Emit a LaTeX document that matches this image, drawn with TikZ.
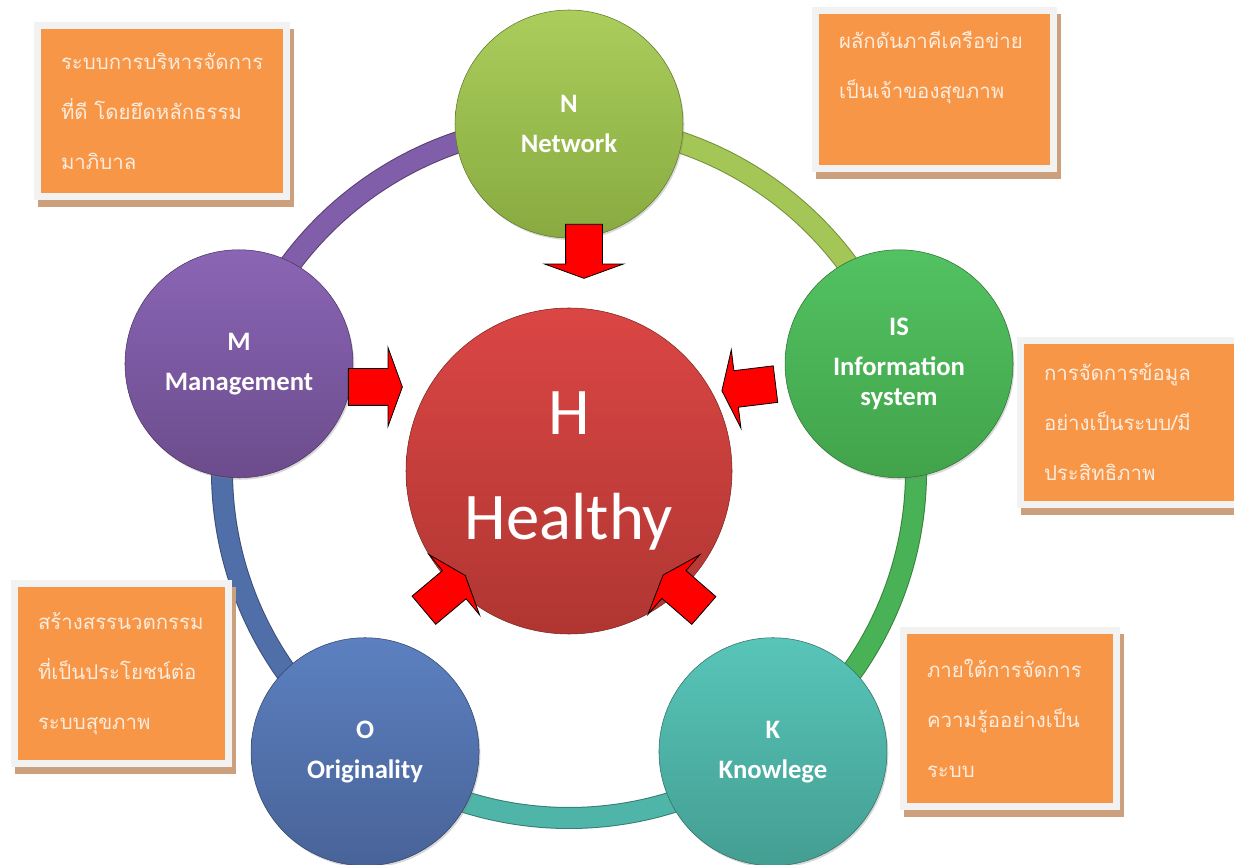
\documentclass[tikz,border=0pt]{standalone}
\usepackage{fontspec}
\setmainfont{Carlito}
\newfontfamily\thaifont[Script=Thai]{Loma}
\usetikzlibrary{shapes.arrows,shadows,backgrounds,calc}

\definecolor{boxorange}{RGB}{247,150,70}
\definecolor{boxgray}{RGB}{242,242,242}
\definecolor{boxshadow}{RGB}{204,160,124}
\definecolor{boxtext}{RGB}{253,236,222}
\definecolor{nTop}{RGB}{170,205,92}
\definecolor{nBot}{RGB}{136,170,64}
\definecolor{isTop}{RGB}{82,194,98}
\definecolor{isBot}{RGB}{66,163,74}
\definecolor{kTop}{RGB}{88,197,185}
\definecolor{kBot}{RGB}{68,158,146}
\definecolor{oTop}{RGB}{92,128,192}
\definecolor{oBot}{RGB}{72,99,152}
\definecolor{mTop}{RGB}{138,101,181}
\definecolor{mBot}{RGB}{108,76,140}
\definecolor{hTop}{RGB}{218,70,68}
\definecolor{hBot}{RGB}{176,54,50}

\tikzset{
	part/.style = {circle, minimum size = 171pt, inner sep = 0pt, text = white, align = center,
		font = \fontsize{20}{22}\selectfont\bfseries,
		drop shadow = {opacity = 0.3, shadow xshift = 1pt, shadow yshift = -1.5pt}},
	ring/.style = {line width = 0.75pt, double distance = 15pt},
	push/.style = {single arrow, draw = black, fill = red, line width = 0.6pt, inner xsep = 0pt, inner ysep = 13.5pt,
		minimum height = 40.5pt, single arrow head extend = 15.75pt, single arrow tip angle = 140},
	infobox/.style = {rectangle, fill = boxgray, inner xsep = 20.25pt, inner ysep = 0pt,
		align = left, text = boxtext, font = \thaifont\fontsize{15.3}{37.5}\selectfont,
		path picture = {\fill[boxorange] ([shift = {(5.25pt,5.25pt)}]path picture bounding box.south west)
			rectangle ([shift = {(-5.25pt,-5.25pt)}]path picture bounding box.north east);},
		drop shadow = {shadow xshift = 3pt, shadow yshift = -5pt, fill = boxshadow, opacity = 1}}
}

\begin{document}
\begin{tikzpicture}[x = 0.75pt, y = 0.75pt]%healthy
	\useasboundingbox (0,0) rectangle (1234,864);
	\coordinate (C) at (569,393);
	\node[part, top color = nTop, bottom color = nBot, draw = nBot!70!black] (N) at ($(C)+(90:347)$) {N\\[8pt]Network};
	\node[part, top color = isTop, bottom color = isBot, draw = isBot!70!black] (IS) at ($(C)+(18:347)$) {IS\\[8pt]Information\\system};
	\node[part, top color = kTop, bottom color = kBot, draw = kBot!70!black] (K) at ($(C)+(-54:347)$) {K\\[8pt]Knowlege};
	\node[part, top color = oTop, bottom color = oBot, draw = oBot!70!black] (O) at ($(C)+(-126:347)$) {O\\[8pt]Originality};
	\node[part, top color = mTop, bottom color = mBot, draw = mBot!70!black] (M) at ($(C)+(162:347)$) {M\\[8pt]Management};
	\node[circle, minimum size = 244.5pt, inner sep = 0pt, top color = hTop, bottom color = hBot, draw = hBot!70!black,
		text = white, align = center, font = \fontsize{50}{60}\selectfont] (H) at (C) {H\\[18.75pt]Healthy};
	\begin{scope}[on background layer]
		\fill[white] (0,0) rectangle (1234,864);
		\draw[ring, draw = nBot!85!black, double = nTop!80!nBot] (N.center) arc[start angle = 90, end angle = 18, radius = 347];
		\draw[ring, draw = isBot!80!black, double = isTop!50!isBot] (IS.center) arc[start angle = 18, end angle = -54, radius = 347];
		\draw[ring, draw = kBot!80!black, double = kTop!60!kBot] (K.center) arc[start angle = -54, end angle = -126, radius = 347];
		\draw[ring, draw = oBot!80!black, double = oTop!40!oBot] (O.center) arc[start angle = -126, end angle = -198, radius = 347];
		\draw[ring, draw = mBot!80!black, double = mTop!70!mBot] (M.center) arc[start angle = 162, end angle = 90, radius = 347];
	\end{scope}
	\node[push, rotate = -90] (aN) at (584,616) {};
	\node[push, rotate = 187] (aIS) at (752,477) {};
	\node[push, rotate = 139] (aK) at (686,269) {};
	\node[push, rotate = 40] (aO) at (442,269) {};
	\node[push, rotate = 0] (aM) at (372,477) {};
	\node[infobox, text width = 151.5pt, minimum height = 133.5pt] (tM) at (162,753) {ระบบการบริหารจัดการ\\ที่ดี โดยยึดหลักธรรม\\มาภิบาล};
	\node[infobox, text width = 143.25pt, minimum height = 123.75pt] (tN) at (934.5,774.5) {ผลักดันภาคีเครือข่าย\\เป็นเจ้าของสุขภาพ\\\mbox{}};
	\node[infobox, text width = 134.25pt, minimum height = 128.25pt] (tIS) at (1133.5,441.5) {การจัดการข้อมูล\\อย่างเป็นระบบ/มี\\ประสิทธิภาพ};
	\node[infobox, text width = 125.25pt, minimum height = 140.25pt] (tO) at (121.5,190.5) {สร้างสรรนวตกรรม\\ที่เป็นประโยชน์ต่อ\\ระบบสุขภาพ};
	\node[infobox, text width = 124.5pt, minimum height = 137.25pt] (tK) at (1010,145.5) {ภายใต้การจัดการ\\ความรู้ออย่างเป็น\\ระบบ};
\end{tikzpicture}
\end{document}
